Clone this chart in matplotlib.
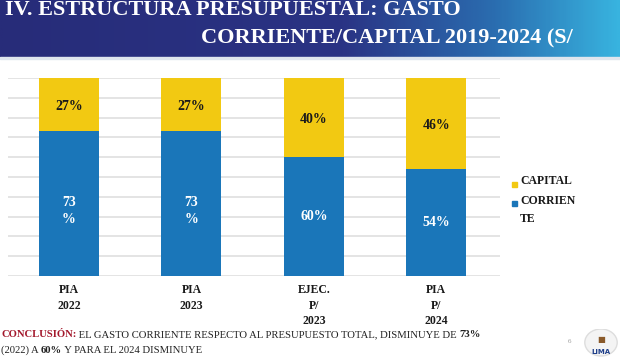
import numpy as np
import matplotlib
matplotlib.use("Agg")
import matplotlib.pyplot as plt
from matplotlib.colors import LinearSegmentedColormap
from matplotlib.patches import Rectangle, Circle

# datos
categorias = ["PIA\n2022", "PIA\n2023", "EJEC.\nP/\n2023", "PIA\nP/\n2024"]
corriente = [73, 73, 60, 54]
capital = [27, 27, 40, 46]
etiq_corriente = ["73\n%", "73\n%", "60%", "54%"]
etiq_capital = ["27%", "27%", "40%", "46%"]

azul = "#1a76b9"
amarillo = "#f2c912"
serif = "Liberation Serif"

W, H = 620, 359
fig = plt.figure(figsize=(6.2, 3.59), dpi=100)
fig.patch.set_facecolor("white")

# cabecera con degradado
cab = fig.add_axes([0, 1 - 57 / H, 1, 57 / H])
cmap = LinearSegmentedColormap.from_list(
    "cab", [(0, "#272c79"), (0.55, "#2a3384"), (0.8, "#2a6db0"), (1, "#38b3df")])
grad = np.linspace(0, 1, 300).reshape(1, -1)
cab.imshow(grad, aspect="auto", cmap=cmap, extent=[0, 1, 0, 1])
cab.set_xlim(0, 1)
cab.set_ylim(0, 1)
cab.axis("off")
cab.text(5 / W, 1 - 15 / 57, "IV. ESTRUCTURA PRESUPUESTAL: GASTO", color="white",
         fontsize=16, fontweight="bold", family=serif, va="baseline", ha="left")
cab.text(573 / W, 1 - 43 / 57, "CORRIENTE/CAPITAL 2019-2024 (S/", color="white",
         fontsize=16, fontweight="bold", family=serif, va="baseline", ha="right")
# linea clara bajo la cabecera
fig.patches.append(Rectangle((0, 1 - 59 / H), 1, 2 / H, color="#dfe6ee",
                             transform=fig.transFigure))

# grafico
ax = fig.add_axes([8 / W, (H - 276) / H, 492 / W, 198 / H])
x = np.arange(len(categorias))
ancho = 0.49
ax.bar(x, corriente, width=ancho, color=azul, zorder=2)
ax.bar(x, capital, width=ancho, bottom=corriente, color=amarillo, zorder=2)
ax.set_ylim(0, 100)
ax.set_xlim(-0.498, 3.52)
for y in range(0, 101, 10):
    ax.axhline(y, color="#e4e4e4", lw=1.4, zorder=1)
for s in ax.spines.values():
    s.set_visible(False)
ax.set_xticks([])
ax.set_yticks([])

for i in range(len(categorias)):
    yc = corriente[i] / 2
    if "\n" in etiq_corriente[i]:
        yc = corriente[i] * 0.45
    ax.text(x[i], yc, etiq_corriente[i], ha="center", va="center",
            color="white", fontsize=10, fontweight="bold", family=serif,
            linespacing=1.35, zorder=3)
    ax.text(x[i], corriente[i] + capital[i] / 2 - 1, etiq_capital[i], ha="center",
            va="center", color="#1a1a1a", fontsize=10, fontweight="bold",
            family=serif, zorder=3)
    ax.text(x[i], -4, categorias[i], ha="center", va="top", color="#1a1a1a",
            fontsize=8.5, fontweight="bold", family=serif, linespacing=1.4)

# leyenda
fig.patches.append(Rectangle((512 / W, 1 - 187 / H), 5 / W, 5 / H,
                             color=amarillo, transform=fig.transFigure))
fig.patches.append(Rectangle((512 / W, 1 - 206 / H), 5 / W, 5 / H,
                             color=azul, transform=fig.transFigure))
fig.text(520 / W, 1 - 181 / H, "CAPITAL", fontsize=8.5, fontweight="bold",
         family=serif, va="center", color="#1a1a1a")
fig.text(520 / W, 1 - 210 / H, "CORRIEN\nTE", fontsize=8.5, fontweight="bold",
         family=serif, va="center", color="#1a1a1a", linespacing=1.75)

# conclusion con partes de distinto estilo
fig.canvas.draw()
rend = fig.canvas.get_renderer()


def linea(partes, x0, y0):
    xx = x0
    for txt, col, peso in partes:
        t = fig.text(xx / W, 1 - y0 / H, txt, color=col, fontweight=peso,
                     fontsize=7.7, family=serif, va="baseline")
        bb = t.get_window_extent(renderer=rend)
        xx += bb.width


rojo = "#a3182c"
negro = "#222222"
linea([("CONCLUSIÓN:", rojo, "bold"),
       (" EL GASTO CORRIENTE RESPECTO AL PRESUPUESTO TOTAL, DISMINUYE DE ", negro, "normal"),
       ("73%", negro, "bold")], 1, 337)
linea([("(2022) A ", negro, "normal"), ("60%", negro, "bold"),
       (" Y PARA EL 2024 DISMINUYE", negro, "normal")], 1, 353)

fig.text(568 / W, 1 - 343 / H, "6", fontsize=5, color="#999999", family=serif)

# logo
logo = fig.add_axes([583 / W, 0, 36 / W, 30 / H])
logo.set_xlim(0, 1)
logo.set_ylim(0, 1)
logo.axis("off")
logo.add_patch(Circle((0.5, 0.55), 0.45, color="#f4f4f4", ec="#dddddd"))
logo.text(0.5, 0.25, "LIMA", fontsize=5, fontweight="bold", color="#1f3f8a",
          ha="center", va="center")
logo.text(0.5, 0.65, "■", fontsize=6, color="#8a5a2a", ha="center", va="center")

fig.savefig("out.png", dpi=100)
